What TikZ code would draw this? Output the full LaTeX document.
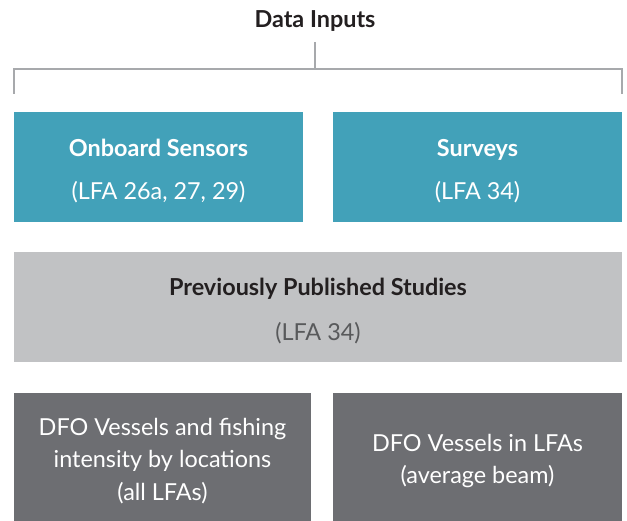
\documentclass[tikz,border=0pt]{standalone}
\usepackage{fontspec}
\setmainfont{Lato}
\definecolor{teal}{HTML}{42A1B9}
\definecolor{lightgrey}{HTML}{C1C2C4}
\definecolor{darkgrey}{HTML}{6D6E72}
\definecolor{bracketgrey}{HTML}{A7A9AC}
\definecolor{textdark}{HTML}{231F20}
\definecolor{textgrey}{HTML}{58595B}
\tikzset{
  box/.style={rectangle, inner sep=0pt},
  txt/.style={inner sep=0pt, align=center, text=white, yshift=-4pt},
  topbox/.style={box, fill=teal, minimum width=289pt, minimum height=110pt},
  midbox/.style={box, fill=lightgrey, minimum width=608pt, minimum height=110pt},
  lowbox/.style={box, fill=darkgrey, minimum height=128pt},
  toptxt/.style={txt, font=\fontsize{23.4}{43}\selectfont},
  midtxt/.style={txt, font=\fontsize{23.4}{45}\selectfont, text=textdark},
  lowtxt/.style={txt, font=\fontsize{23.4}{32.5}\selectfont},
  bracket/.style={draw=bracketgrey, line width=2.5pt}
}
\begin{document}
\begin{tikzpicture}[x=1pt,y=-1pt]
\useasboundingbox (0,0) rectangle (627,521);
\node[font=\fontsize{23.4}{25}\selectfont\bfseries, text=textdark, inner sep=0pt] (title) at (315,21) {Data Inputs};
\coordinate (top) at (315,42);
\coordinate (mid) at (315,69);
\coordinate (lc) at (14,69);
\coordinate (rc) at (622,69);
\coordinate (ll) at (14,94);
\coordinate (rl) at (622,94);
\draw[bracket] (top) -- (mid);
\draw[bracket] (ll) -- (lc) -- (rc) -- (rl);
\node[topbox] (onboard) at (158.5,167) {};
\node[topbox] (surveys) at (477.5,167) {};
\node[midbox] (studies) at (318,307) {};
\node[lowbox, minimum width=297pt] (dfoa) at (162.5,457) {};
\node[lowbox, minimum width=289pt] (dfob) at (477.5,457) {};
\node[toptxt] (onboardt) at (onboard.center) {{\bfseries Onboard Sensors}\\(LFA 26a, 27, 29)};
\node[toptxt] (surveyst) at (surveys.center) {{\bfseries Surveys}\\(LFA 34)};
\node[midtxt] (studiest) at (studies.center) {{\bfseries Previously Published Studies}\\{\color{textgrey}(LFA 34)}};
\node[lowtxt] (dfoat) at (dfoa.center) {DFO Vessels and fishing\\intensity by locations\\(all LFAs)};
\node[lowtxt] (dfobt) at (dfob.center) {DFO Vessels in LFAs\\(average beam)};
\end{tikzpicture}
\end{document}
